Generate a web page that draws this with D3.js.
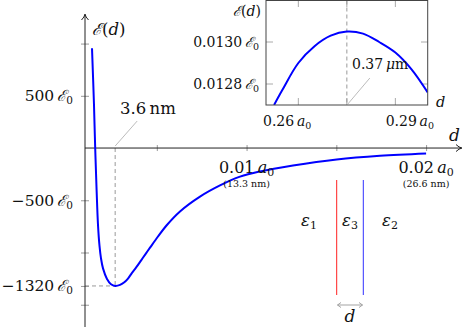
<!DOCTYPE html>
<html><head><meta charset="utf-8">
<script src="https://cdn.jsdelivr.net/npm/d3@7"></script>
<style>
html,body{margin:0;padding:0;background:#fff;}
</style></head>
<body><svg id="c" width="463" height="327"></svg>
<script>
// ---- data ----
const mainD = [0.00139,0.0015,0.001568,0.001646,0.001724,0.001808,0.001891,0.002003,0.002225,0.002448,0.00268,0.00295,0.003172,0.003395,0.003618,0.003841,0.004119,0.004398,0.004621,0.005066,0.005551,0.006292,0.007406,0.00852,0.009634,0.010748,0.012586,0.015021,0.017433,0.02];
const mainE = [955,419,0,-401,-736,-937,-1056,-1152,-1253,-1303,-1320,-1310,-1287,-1249,-1195,-1145,-1077,-1008,-954,-847,-739,-607,-465,-358,-274,-224,-167,-109,-74,-52];
const xTicks = [0.005,0.01,0.015,0.02];
const xTickLabels = [{v:0.01,num:"0.01",nm:"(13.3 nm)"},{v:0.02,num:"0.02",nm:"(26.6 nm)"}];
const yTicks = [1000,500,-500,-1000,-1320,-1500];
const yTickLabels = [500,-500,-1320];
const minD = 0.00268, minE = -1320;

const insD = [0.2525,0.255,0.26,0.265,0.27,0.275,0.28,0.285,0.29,0.295,0.30];
const insE = [0.0127,0.01277,0.0129,0.01298,0.01303,0.01305,0.01304,0.01300,0.01295,0.01287,0.01276];
const insXTicks = [0.26,0.275,0.29];
const insYTicks = [0.0128,0.0130];
const insYLabels = ["0.0128","0.0130"];
const peakD = 0.275;

const materials = [{sym:"ε",sub:"1"},{sym:"ε",sub:"3"},{sym:"ε",sub:"2"}];

// ---- drawing ----
const FF = "DejaVu Serif";
const svg = d3.select("#c");
const E = "ℰ";
const x = d3.scaleLinear().domain([0.001,0.022]).range([85,462]);
const y = d3.scaleLinear().domain([-1713,1283]).range([327,14]);

const grey = "#999";
const axisCol = "#222";
function txt(sel){ return sel.append("text").style("font-family",FF).attr("fill","#111"); }

// dashed min markers
svg.append("line").attr("x1",x(minD)).attr("x2",x(minD)).attr("y1",y(0)).attr("y2",y(minE))
  .attr("stroke",grey).attr("stroke-width",1).attr("stroke-dasharray","4,3");
svg.append("line").attr("x1",x(0.001)).attr("x2",x(minD)).attr("y1",y(minE)).attr("y2",y(minE))
  .attr("stroke",grey).attr("stroke-width",1).attr("stroke-dasharray","4,3");

// ticks via d3 axes
const gx = svg.append("g").attr("transform",`translate(0,${y(0)})`)
  .call(d3.axisBottom(x).tickValues(xTicks).tickFormat("").tickSizeOuter(0));
gx.select(".domain").remove();
gx.selectAll(".tick line").attr("y1",-3).attr("y2",3).attr("stroke",grey);
const gy = svg.append("g").attr("transform",`translate(${x(0.001)},0)`)
  .call(d3.axisLeft(y).tickValues(yTicks).tickFormat("").tickSizeOuter(0));
gy.select(".domain").remove();
gy.selectAll(".tick line").attr("x1",-4).attr("x2",4).attr("stroke",grey);

// axes lines with arrows
svg.append("line").attr("x1",x(0.001)).attr("x2",461).attr("y1",y(0)).attr("y2",y(0)).attr("stroke",axisCol).attr("stroke-width",1);
svg.append("path").attr("d",`M456,${y(0)-3.5} Q459,${y(0)-0.5} 462,${y(0)} Q459,${y(0)+0.5} 456,${y(0)+3.5}`).attr("fill","none").attr("stroke",axisCol).attr("stroke-width",1);
svg.append("line").attr("x1",x(0.001)).attr("x2",x(0.001)).attr("y1",15).attr("y2",327).attr("stroke",axisCol).attr("stroke-width",1);
svg.append("path").attr("d",`M${x(0.001)-3.5},20 Q${x(0.001)-0.5},17 ${x(0.001)},14 Q${x(0.001)+0.5},17 ${x(0.001)+3.5},20`).attr("fill","none").attr("stroke",axisCol).attr("stroke-width",1);

// main curve
const line = d3.line().x((d,i)=>x(mainD[i])).y((d,i)=>y(mainE[i])).curve(d3.curveCatmullRom.alpha(0.5));
svg.append("path").datum(mainE).attr("d",line).attr("fill","none").attr("stroke","#0000ff").attr("stroke-width",2);

// y tick labels
yTickLabels.forEach(v=>{
  const t = txt(svg).attr("x",73).attr("y",y(v)+5.5).attr("text-anchor","end").attr("font-size",15.5);
  t.append("tspan").text((v<0?"−":"")+Math.abs(v)+"\u2009");
  t.append("tspan").attr("font-style","italic").text(E);
  t.append("tspan").attr("font-size",10.5).attr("dy",3).text("0");
});
// x tick labels
xTickLabels.forEach(o=>{
  const t = txt(svg).attr("x",x(o.v)).attr("y",y(0)+25).attr("text-anchor","middle").attr("font-size",16);
  t.append("tspan").text(o.num+"\u2009");
  t.append("tspan").attr("font-style","italic").text("a");
  t.append("tspan").attr("font-size",11).attr("dy",3).text("0");
  txt(svg).attr("x",x(o.v)).attr("y",y(0)+39).attr("text-anchor","middle").attr("font-size",9.5).text(o.nm);
});
// axis labels
{
  const t = txt(svg).attr("x",92).attr("y",35).attr("font-size",16.5);
  t.append("tspan").attr("font-style","italic").text(E);
  t.append("tspan").text("(");
  t.append("tspan").attr("font-style","italic").text("d");
  t.append("tspan").text(")");
  txt(svg).attr("x",449).attr("y",141).attr("font-size",17).attr("font-style","italic").text("d");
}
// 3.6 nm annotation
svg.append("line").attr("x1",x(minD)).attr("y1",y(0)-2).attr("x2",x(minD)+22).attr("y2",y(0)-27).attr("stroke","#aaa").attr("stroke-width",0.8);
txt(svg).attr("x",120).attr("y",114).attr("font-size",16.5).text("3.6\u2009nm");

// materials sketch
const matX = [309,350,390];
materials.forEach((m,i)=>{
  const t = txt(svg).attr("x",matX[i]).attr("y",226).attr("text-anchor","middle").attr("font-size",16.5);
  t.append("tspan").attr("font-style","italic").text(m.sym);
  t.append("tspan").attr("font-size",11).attr("dy",3).text(m.sub);
});
svg.append("line").attr("x1",336.7).attr("x2",336.7).attr("y1",180).attr("y2",295).attr("stroke","#ff2020").attr("stroke-width",1);
svg.append("line").attr("x1",363.3).attr("x2",363.3).attr("y1",180).attr("y2",295).attr("stroke","#3030ff").attr("stroke-width",1);
svg.append("line").attr("x1",337.5).attr("x2",362.5).attr("y1",305).attr("y2",305).attr("stroke",grey).attr("stroke-width",0.9);
svg.append("path").attr("d","M341,302.5 L337.5,305 L341,307.5 M359,302.5 L362.5,305 L359,307.5").attr("fill","none").attr("stroke",grey).attr("stroke-width",0.9);
txt(svg).attr("x",350).attr("y",322).attr("text-anchor","middle").attr("font-size",17).attr("font-style","italic").text("d");

// ---- inset ----
const ix = d3.scaleLinear().domain([0.25,0.30]).range([266,427.7]);
const iy = d3.scaleLinear().domain([0.0127,0.0132]).range([105,0]);
svg.append("rect").attr("x",266).attr("y",0.5).attr("width",161.7).attr("height",104.5).attr("fill","#fff");
svg.append("defs").append("clipPath").attr("id","ic").append("rect").attr("x",266).attr("y",0.5).attr("width",161.7).attr("height",104.5);
const tc = "#aaa";
insXTicks.forEach(v=>{
  svg.append("line").attr("x1",ix(v)).attr("x2",ix(v)).attr("y1",0.5).attr("y2",7).attr("stroke",tc);
  svg.append("line").attr("x1",ix(v)).attr("x2",ix(v)).attr("y1",98).attr("y2",105).attr("stroke",tc);
});
insYTicks.forEach(v=>{
  svg.append("line").attr("x1",266).attr("x2",273).attr("y1",iy(v)).attr("y2",iy(v)).attr("stroke",tc);
  svg.append("line").attr("x1",421).attr("x2",427.7).attr("y1",iy(v)).attr("y2",iy(v)).attr("stroke",tc);
});
svg.append("line").attr("x1",ix(peakD)).attr("x2",ix(peakD)).attr("y1",0.5).attr("y2",105)
  .attr("stroke",grey).attr("stroke-width",1).attr("stroke-dasharray","4,3");
const iline = d3.line().x((d,i)=>ix(insD[i])).y((d,i)=>iy(insE[i])).curve(d3.curveCatmullRom.alpha(0.5));
svg.append("path").datum(insE).attr("d",iline).attr("clip-path","url(#ic)").attr("fill","none").attr("stroke","#0000ff").attr("stroke-width",2);
svg.append("rect").attr("x",266).attr("y",0.5).attr("width",161.7).attr("height",104.5).attr("fill","none").attr("stroke","#444").attr("stroke-width",1);

// inset labels
insYTicks.forEach((v,i)=>{
  const t = txt(svg).attr("x",259).attr("y",iy(v)+5).attr("text-anchor","end").attr("font-size",14);
  t.append("tspan").text(insYLabels[i]+"\u2009");
  t.append("tspan").attr("font-style","italic").text(E);
  t.append("tspan").attr("font-size",9.5).attr("dy",3).text("0");
});
[{v:0.26,s:"0.26",a:"start",xx:263},{v:0.29,s:"0.29",a:"end",xx:434}].forEach(o=>{
  const t = txt(svg).attr("x",o.xx).attr("y",126).attr("text-anchor",o.a).attr("font-size",14);
  t.append("tspan").text(o.s+"\u2009");
  t.append("tspan").attr("font-style","italic").text("a");
  t.append("tspan").attr("font-size",9.5).attr("dy",3).text("0");
});
{
  const t = txt(svg).attr("x",261).attr("y",16).attr("text-anchor","end").attr("font-size",14);
  t.append("tspan").attr("font-style","italic").text(E);
  t.append("tspan").text("(");
  t.append("tspan").attr("font-style","italic").text("d");
  t.append("tspan").text(")");
  txt(svg).attr("x",436).attr("y",107).attr("font-size",14.5).attr("font-style","italic").text("d");
}
svg.append("line").attr("x1",ix(peakD)+1).attr("y1",104).attr("x2",ix(peakD)+23).attr("y2",78).attr("stroke","#aaa").attr("stroke-width",0.8);
{
  const t = txt(svg).attr("x",352).attr("y",69).attr("font-size",14);
  t.append("tspan").text("0.37\u2009");
  t.append("tspan").attr("font-style","italic").text("μ");
  t.append("tspan").text("m");
}
</script></body></html>
